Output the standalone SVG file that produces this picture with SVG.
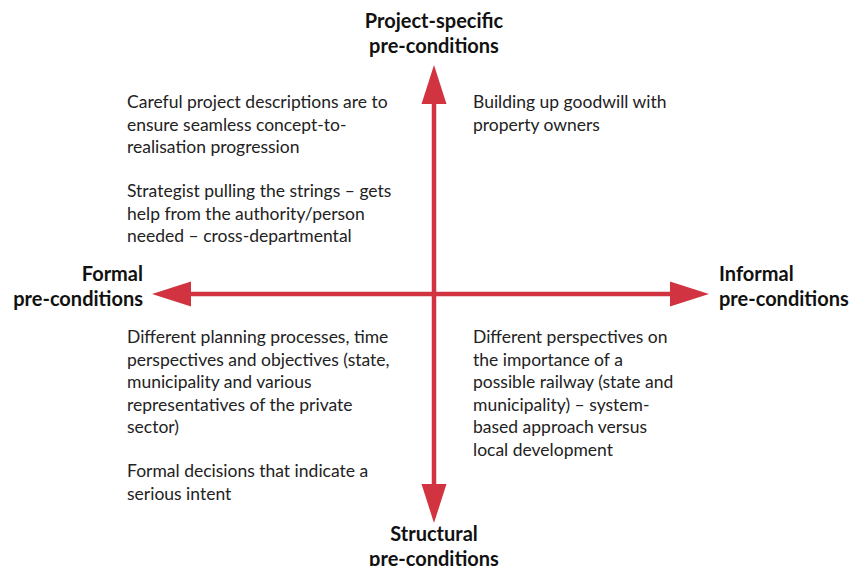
<svg xmlns="http://www.w3.org/2000/svg" width="862" height="566" viewBox="0 0 862 566">
  <style>
    .axis { stroke: #d13440; stroke-width: 4.5; fill: none; }
    .head { fill: #d13440; }
    .title { font-family: Lato, "Open Sans", "Liberation Sans", sans-serif; font-weight: bold; font-size: 20px; fill: #111; }
    .body { font-family: Lato, "Open Sans", "Liberation Sans", sans-serif; font-size: 17.5px; fill: #222; }
  </style>
  <rect width="862" height="566" fill="#fff"/>

  <!-- Axes -->
  <g id="connectors">
    <line class="axis" x1="434" y1="100" x2="434" y2="488"/>
    <line class="axis" x1="188" y1="294" x2="672" y2="294"/>
    <polygon class="head" points="434,65 446.5,104 421.5,104"/>
    <polygon class="head" points="434,523 446.5,484 421.5,484"/>
    <polygon class="head" points="152,294 191,281.5 191,306.5"/>
    <polygon class="head" points="709,294 670,281.5 670,306.5"/>
  </g>

  <!-- Axis labels -->
  <g id="project-specific">
    <text class="title" x="434" y="28" text-anchor="middle">Project-specific</text>
    <text class="title" x="434" y="53" text-anchor="middle">pre-conditions</text>
  </g>
  <g id="structural">
    <text class="title" x="434" y="541" text-anchor="middle">Structural</text>
    <text class="title" x="434" y="566" text-anchor="middle">pre-conditions</text>
  </g>
  <g id="formal">
    <text class="title" x="143" y="281" text-anchor="end">Formal</text>
    <text class="title" x="143" y="306" text-anchor="end">pre-conditions</text>
  </g>
  <g id="informal">
    <text class="title" x="719" y="281">Informal</text>
    <text class="title" x="719" y="306">pre-conditions</text>
  </g>

  <!-- Quadrant notes -->
  <g id="quadrant-top-left" class="body">
    <text x="127" y="108">Careful project descriptions are to</text>
    <text x="127" y="130.5">ensure seamless concept-to-</text>
    <text x="127" y="153">realisation progression</text>
    <text x="127" y="197">Strategist pulling the strings – gets</text>
    <text x="127" y="219.5">help from the authority/person</text>
    <text x="127" y="242">needed – cross-departmental</text>
  </g>
  <g id="quadrant-top-right" class="body">
    <text x="473" y="108">Building up goodwill with</text>
    <text x="473" y="130.5">property owners</text>
  </g>
  <g id="quadrant-bottom-left" class="body">
    <text x="127" y="343">Different planning processes, time</text>
    <text x="127" y="365.5">perspectives and objectives (state,</text>
    <text x="127" y="388">municipality and various</text>
    <text x="127" y="410.5">representatives of the private</text>
    <text x="127" y="433">sector)</text>
    <text x="127" y="477">Formal decisions that indicate a</text>
    <text x="127" y="499.5">serious intent</text>
  </g>
  <g id="quadrant-bottom-right" class="body">
    <text x="473" y="343">Different perspectives on</text>
    <text x="473" y="365.5">the importance of a</text>
    <text x="473" y="388">possible railway (state and</text>
    <text x="473" y="410.5">municipality) – system-</text>
    <text x="473" y="433">based approach versus</text>
    <text x="473" y="455.5">local development</text>
  </g>
</svg>
